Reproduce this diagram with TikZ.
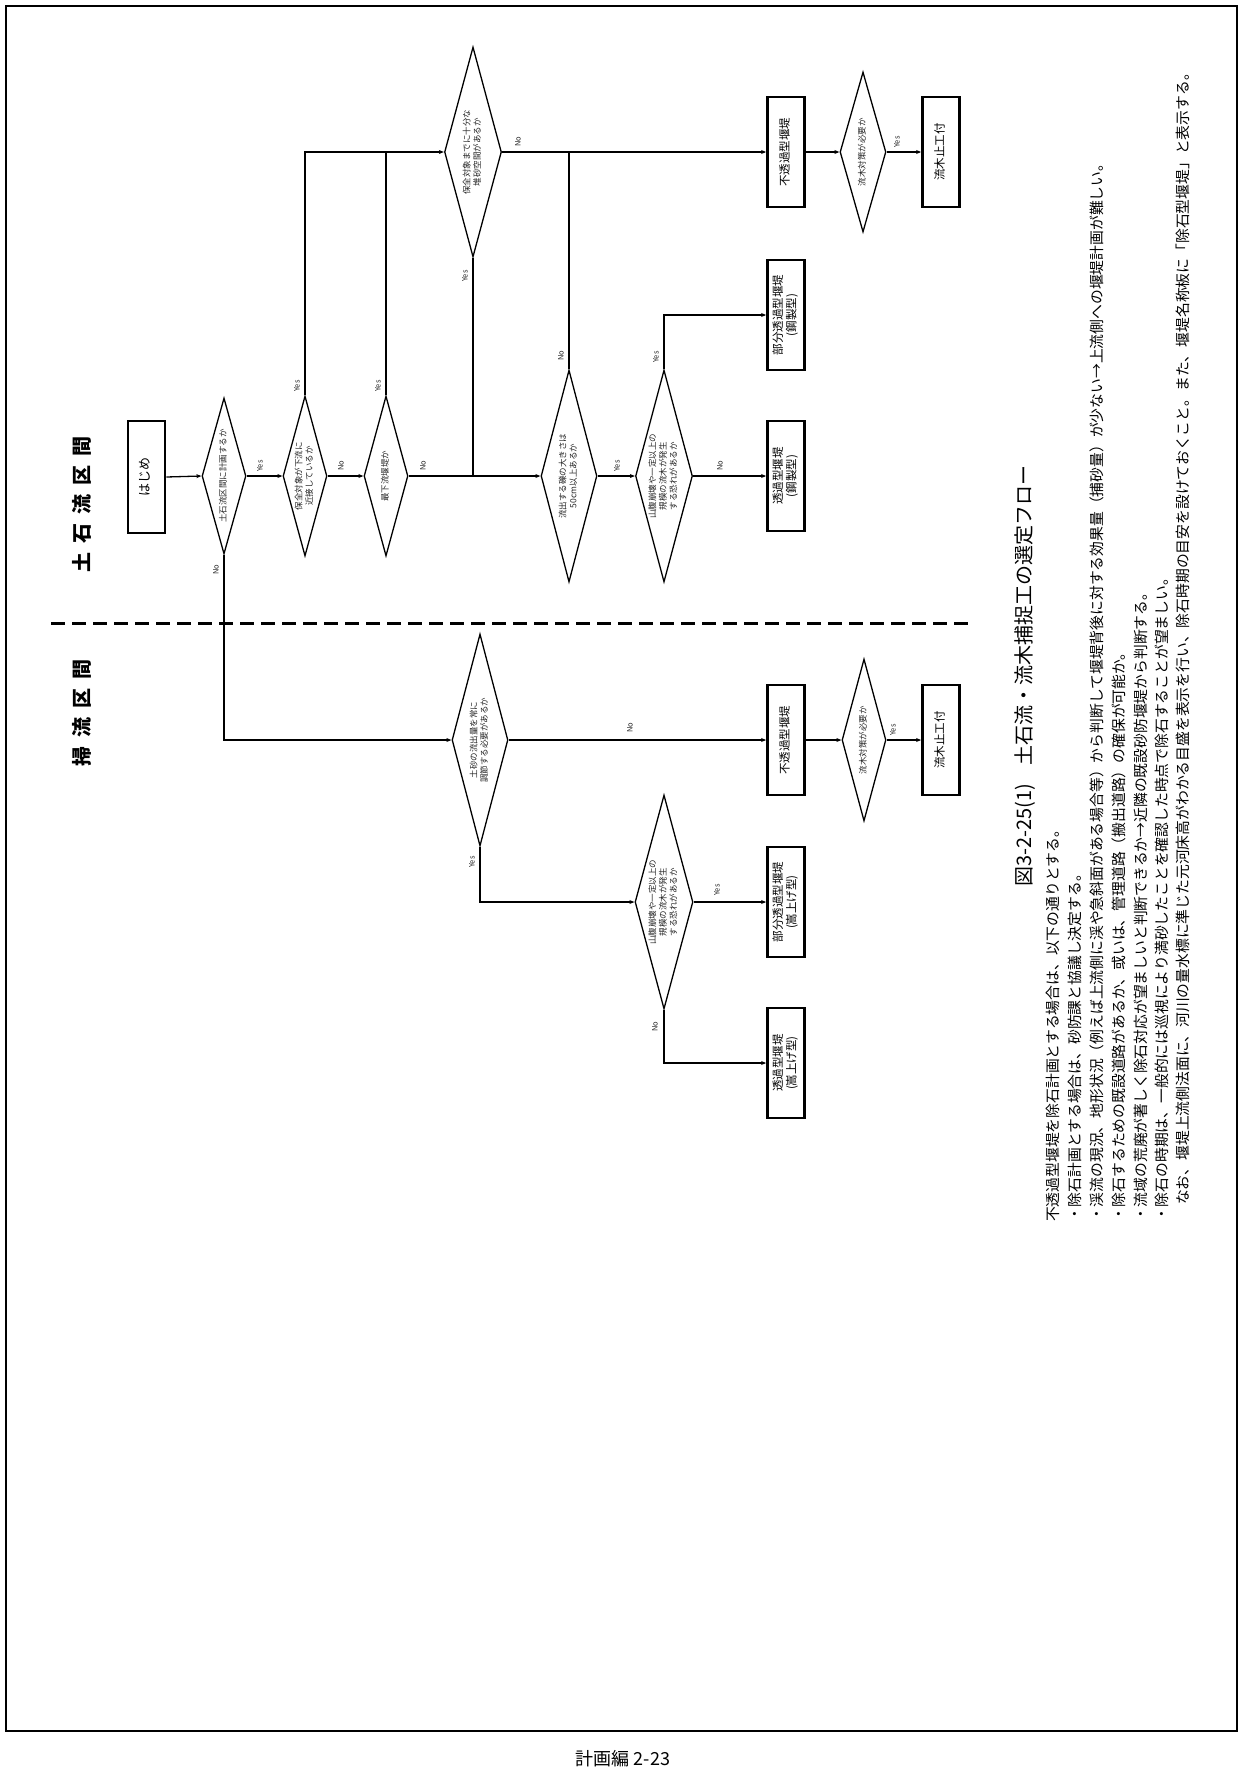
\documentclass[tikz,border=0pt]{standalone}
\usepackage{fontspec}
\usepackage{graphicx}
\setmainfont{Noto Sans CJK JP}
\usetikzlibrary{shapes.geometric,arrows.meta}
\newcommand{\fs}[2]{\fontsize{#1bp}{#2bp}\selectfont}
\newcommand{\rt}[1]{\rotatebox{90}{\begin{tabular}{@{}c@{}}#1\end{tabular}}}
\newcommand{\hsp}{\hspace{0.45em}}
\tikzset{
  box/.style={draw, line width=2.8bp, minimum width=37bp, minimum height=110bp, inner sep=0pt},
  dia/.style={draw, diamond, aspect=0.27, line width=1.3bp, inner sep=0pt},
  dtxt/.style={inner sep=0pt, font=\fs{8.5}{10.5}, text=black!85},
  btxt/.style={inner sep=0pt, font=\fs{11.5}{13}},
  conn/.style={line width=1.3bp, -{Stealth[length=5bp,width=4bp]}},
  plain/.style={line width=1.3bp},
  yn/.style={font=\fs{7.5}{8}, rotate=90, inner sep=0pt, text=black!85},
  note/.style={font=\fs{14.8}{15}, rotate=90, anchor=west, inner sep=0pt},
}
\begin{document}
\begin{tikzpicture}[x=1bp, y=-1bp]
\useasboundingbox (0,0) rectangle (1243,1791);
\draw[line width=1.5bp] (6,6) rectangle (1237,1731);

% headers and separator
\node[rotate=90, font=\fs{20}{22}\bfseries] (h1) at (82,504) {土\hsp 石\hsp 流\hsp 区\hsp 間};
\node[rotate=90, font=\fs{20}{22}\bfseries] (h2) at (82,713) {掃\hsp 流\hsp 区\hsp 間};
\coordinate (sepL) at (51,623);
\coordinate (sepR) at (972,623);
\draw[line width=3bp, dash pattern=on 14bp off 7bp] (sepL) -- (sepR);

% upper flow (debris-flow section)
\node[box, minimum height=112bp] (start) at (146.5,477) {};
\node[btxt, font=\fs{13}{14}] (startt) at (start) {\rt{はじめ}};

\node[dia, minimum width=44bp, minimum height=156bp] (d1) at (224,476) {};
\node[dtxt] (d1t) at (d1) {\rt{土石流区間に計画するか}};
\node[dia, minimum width=44bp, minimum height=160bp] (d2) at (305,476) {};
\node[dtxt] (d2t) at (d2) {\rt{保全対象が下流に\\近接しているか}};
\node[dia, minimum width=44bp, minimum height=160bp] (d3) at (386,476) {};
\node[dtxt] (d3t) at (d3) {\rt{最下流堰堤か}};
\node[dia, minimum width=57bp, minimum height=210bp] (d4) at (473,152) {};
\node[dtxt] (d4t) at (d4) {\rt{保全対象までに十分な\\堆砂空間があるか}};
\node[dia, minimum width=56bp, minimum height=212bp] (d5) at (569,476) {};
\node[dtxt] (d5t) at (d5) {\rt{流出する礫の大きさは\\50cm以上あるか}};
\node[dia, minimum width=57bp, minimum height=212bp] (d6) at (664,476) {};
\node[dtxt] (d6t) at (d6) {\rt{山腹崩壊や一定以上の\\規模の流木が発生\\する恐れがあるか}};

\node[box] (bt1) at (786,152) {};
\node[btxt] (bt1t) at (bt1) {\rt{不透過型堰堤}};
\node[box] (bt2) at (786,315) {};
\node[btxt] (bt2t) at (bt2) {\rt{部分透過型堰堤\\(鋼製型)}};
\node[box] (bt3) at (786,476) {};
\node[btxt] (bt3t) at (bt3) {\rt{透過型堰堤\\(鋼製型)}};
\node[dia, minimum width=46bp, minimum height=160bp] (t) at (863,152) {};
\node[dtxt] (tt) at (t) {\rt{流木対策が必要か}};
\node[box] (bt4) at (941,152) {};
\node[btxt] (bt4t) at (bt4) {\rt{流木止工付}};

\draw[conn] (start.east) -- (d1.west);
\draw[conn] (d1.east) -- (d2.west);
\draw[conn] (d2.east) -- (d3.west);
\draw[conn] (d3.east) -- (d5.west);
\draw[plain] (d4.south) -- (d4.south |- d5.west);
\draw[conn] (d2.north) |- (d4.west);
\draw[plain] (d3.north) -- (d3.north |- d4.west);
\draw[conn] (d4.east) -- (bt1.west);
\draw[plain] (d5.north) -- (d5.north |- d4.east);
\draw[conn] (d5.east) -- (d6.west);
\draw[conn] (d6.north) |- (bt2.west);
\draw[conn] (d6.east) -- (bt3.west);
\draw[conn] (bt1.east) -- (t.west);
\draw[conn] (t.east) -- (bt4.west);

\node[yn] (y1) at (260,466) {Yes};
\node[yn] (n1) at (341,466) {No};
\node[yn] (n2) at (423,466) {No};
\node[yn] (y2) at (297,386) {Yes};
\node[yn] (y3) at (378,386) {Yes};
\node[yn] (y4) at (465,276) {Yes};
\node[yn] (n3) at (518,142) {No};
\node[yn] (n4) at (561,356) {No};
\node[yn] (y5) at (617,466) {Yes};
\node[yn] (y6) at (656,357) {Yes};
\node[yn] (n5) at (720,466) {No};
\node[yn] (y7) at (897,142) {Yes};
\node[yn] (n6) at (216,570) {No};

% lower flow (tractive-flow section)
\node[dia, minimum width=56bp, minimum height=212bp] (l1) at (480,740) {};
\node[dtxt] (l1t) at (l1) {\rt{土砂の流出量を常に\\調節する必要があるか}};
\node[dia, minimum width=58bp, minimum height=214bp] (l2) at (664,902) {};
\node[dtxt] (l2t) at (l2) {\rt{山腹崩壊や一定以上の\\規模の流木が発生\\する恐れがあるか}};
\node[box] (bl1) at (786,740) {};
\node[btxt] (bl1t) at (bl1) {\rt{不透過型堰堤}};
\node[box] (bl2) at (786,902) {};
\node[btxt] (bl2t) at (bl2) {\rt{部分透過型堰堤\\(嵩上げ型)}};
\node[box] (bl3) at (786,1063) {};
\node[btxt] (bl3t) at (bl3) {\rt{透過型堰堤\\(嵩上げ型)}};
\node[dia, minimum width=44bp, minimum height=162bp] (l3) at (864,740) {};
\node[dtxt] (l3t) at (l3) {\rt{流木対策が必要か}};
\node[box] (bl4) at (941,740) {};
\node[btxt] (bl4t) at (bl4) {\rt{流木止工付}};

\draw[conn] (d1.south) |- (l1.west);
\draw[conn] (l1.east) -- (bl1.west);
\draw[conn] (bl1.east) -- (l3.west);
\draw[conn] (l3.east) -- (bl4.west);
\draw[conn] (l1.south) |- (l2.west);
\draw[conn] (l2.east) -- (bl2.west);
\draw[conn] (l2.south) |- (bl3.west);

\node[yn] (n7) at (630,728) {No};
\node[yn] (y8) at (472,862) {Yes};
\node[yn] (y9) at (717,890) {Yes};
\node[yn] (n8) at (655,1027) {No};
\node[yn] (y10) at (893,730) {Yes};

% caption and notes
\node[rotate=90, anchor=west, inner sep=0pt, font=\fs{20}{22}] (cap) at (1025,887) {図3-2-25(1)\hspace{0.9em}土石流・流木捕捉工の選定フロー};
\node[note] (nt1) at (1053,1222) {不透過型堰堤を除石計画とする場合は、以下の通りとする。};
\node[note] (nt2) at (1075,1222) {・除石計画とする場合は、砂防課と協議し決定する。};
\node[note] (nt3) at (1097,1222) {・渓流の現況、地形状況（例えば上流側に渓や急斜面がある場合等）から判断して堰堤背後に対する効果量（捕砂量）が少ない→上流側への堰堤計画が難しい。};
\node[note] (nt4) at (1119,1222) {・除石するための既設道路があるか、或いは、管理道路（搬出道路）の確保が可能か。};
\node[note] (nt5) at (1141,1222) {・流域の荒廃が著しく除石対応が望ましいと判断できるか→近隣の既設砂防堰堤から判断する。};
\node[note] (nt6) at (1162,1222) {・除石の時期は、一般的には巡視により満砂したことを確認した時点で除石することが望ましい。};
\node[note] (nt7) at (1183,1205) {なお、堰堤上流側法面に、河川の量水標に準じた元河床高がわかる目盛を表示を行い、除石時期の目安を設けておくこと。また、堰堤名称板に「除石型堰堤」と表示する。};

\node[font=\fs{18}{20}] (foot) at (623,1759) {計画編 2-23};
\end{tikzpicture}
\end{document}
